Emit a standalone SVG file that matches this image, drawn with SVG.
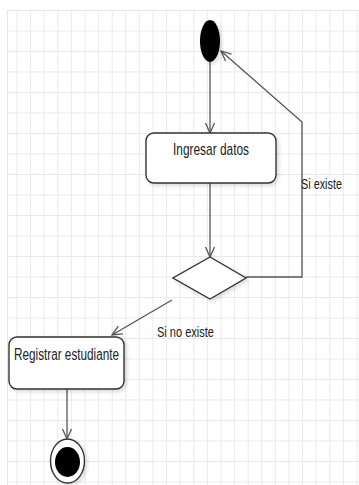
<svg xmlns="http://www.w3.org/2000/svg" width="359" height="485" viewBox="0 0 359 485">
  <defs>
    <pattern id="grid" patternUnits="userSpaceOnUse" x="2.9" y="10" width="13.6" height="20.5">
      <path d="M0.5 0 V20.5 M0 0.5 H13.6" fill="none" stroke="#e9e9e9" stroke-width="1"/>
    </pattern>
    <marker id="open" viewBox="0 0 12 12" refX="11" refY="6" markerWidth="12" markerHeight="12" markerUnits="userSpaceOnUse" orient="auto">
      <path d="M1 1.5 L11 6 L1 10.5" fill="none" stroke="#555" stroke-width="1.3"/>
    </marker>
    <filter id="sh" x="-20%" y="-20%" width="140%" height="140%">
      <feGaussianBlur in="SourceAlpha" stdDeviation="2"/>
      <feOffset dx="2" dy="2" result="b"/>
      <feComponentTransfer><feFuncA type="linear" slope="0.15"/></feComponentTransfer>
      <feMerge><feMergeNode/><feMergeNode in="SourceGraphic"/></feMerge>
    </filter>
  </defs>
  <style>
    .node { fill: #fff; stroke: #333; stroke-width: 1.4; }
    .edge { fill: none; stroke: #555; stroke-width: 1.3; }
    .lbl { font-family: "Liberation Sans", Arial, sans-serif; fill: #222; }
  </style>
  <rect width="359" height="485" fill="#fff"/>
  <rect x="7" y="10" width="352" height="475" fill="url(#grid)"/>
  <path d="M7 10.5 H359 M7.5 10 V485" stroke="#e6e6e6" stroke-width="1" fill="none"/>

  <g id="connectors">
    <line class="edge" x1="210" y1="62" x2="210" y2="133" marker-end="url(#open)"/>
    <line class="edge" x1="210" y1="183" x2="210" y2="257" marker-end="url(#open)"/>
    <polyline class="edge" points="246,277 302,277 302,122 221,51" marker-end="url(#open)"/>
    <line class="edge" x1="172" y1="300" x2="112" y2="335" marker-end="url(#open)"/>
    <line class="edge" x1="67" y1="389" x2="67" y2="439" marker-end="url(#open)"/>
    <text class="lbl" x="301" y="189" font-size="15" textLength="41" lengthAdjust="spacingAndGlyphs">Si existe</text>
    <text class="lbl" x="157" y="337" font-size="15" textLength="57" lengthAdjust="spacingAndGlyphs">Si no existe</text>
  </g>

  <g id="start">
    <ellipse cx="210" cy="41" rx="10" ry="21" fill="#000" filter="url(#sh)"/>
  </g>

  <g id="ingresar">
    <rect class="node" x="146" y="133" width="130" height="50" rx="8" filter="url(#sh)"/>
    <text class="lbl" x="211" y="155" font-size="17" text-anchor="middle" textLength="76" lengthAdjust="spacingAndGlyphs">Ingresar datos</text>
  </g>

  <g id="decision">
    <polygon class="node" points="210,257 246,278 210,299 173,278" filter="url(#sh)"/>
  </g>

  <g id="registrar">
    <rect class="node" x="9" y="337" width="115" height="52" rx="8" filter="url(#sh)"/>
    <text class="lbl" x="66.5" y="360" font-size="16" text-anchor="middle" textLength="105" lengthAdjust="spacingAndGlyphs">Registrar estudiante</text>
  </g>

  <g id="end">
    <ellipse class="node" cx="67.5" cy="461" rx="17" ry="22" filter="url(#sh)"/>
    <ellipse cx="67.5" cy="462" rx="12.5" ry="15" fill="#000"/>
  </g>
</svg>
